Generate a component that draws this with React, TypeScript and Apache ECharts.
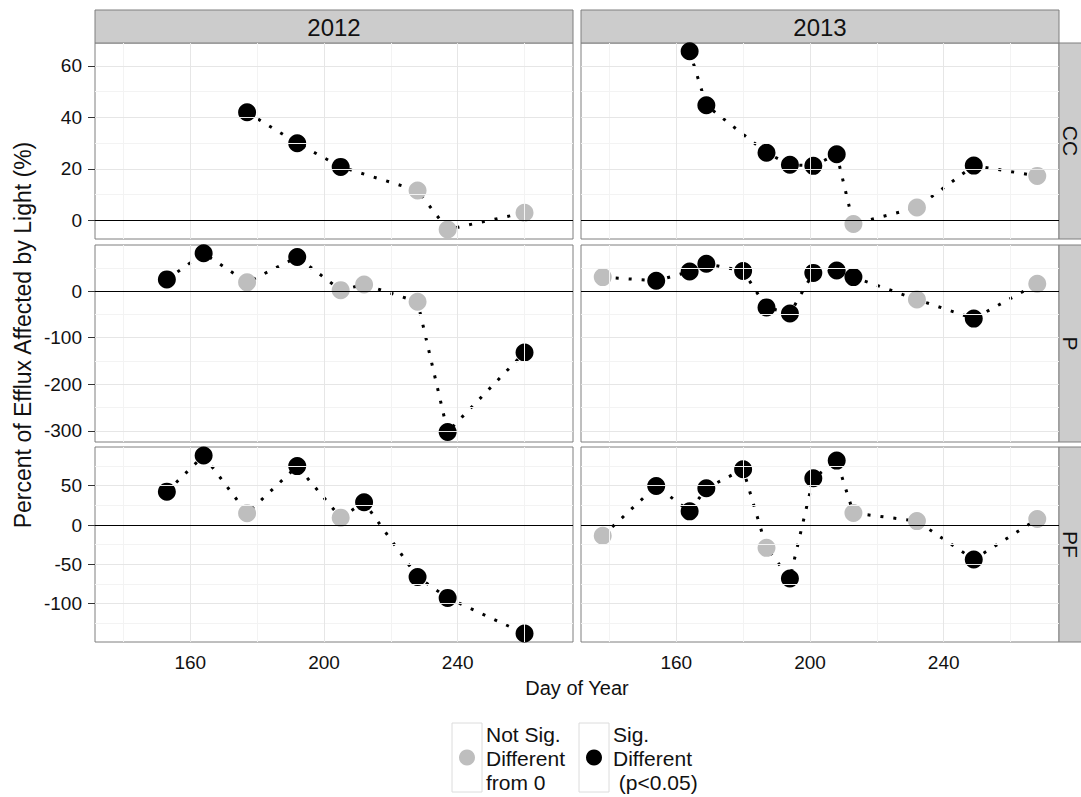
import React, { useEffect, useRef } from "react";
import * as echarts from "echarts";

// sampling days per year
const days2012 = [153, 164, 177, 192, 205, 212, 228, 237, 260];
const days2013 = [138, 154, 164, 169, 180, 187, 194, 201, 208, 213, 232, 249, 268];

// percent of efflux affected by light, null = not measured
const cc2012 = [null, null, 42, 30, 20.8, null, 11.6, -3.5, 3];
const ccSig2012 = [0, 0, 1, 1, 1, 0, 0, 0, 0];
const p2012 = [25, 81, 18.7, 73, 2, 14, -23, -302, -131.6];
const pSig2012 = [1, 1, 0, 1, 0, 0, 0, 1, 1];
const pf2012 = [42.5, 88.4, 15, 75, 9.4, 29, -66, -92.7, -138];
const pfSig2012 = [1, 1, 0, 1, 0, 1, 1, 1, 1];

const cc2013 = [null, null, 65.7, 44.7, null, 26.3, 21.6, 21.2, 25.7, -1.4, 5, 21.3, 17.3];
const ccSig2013 = [0, 0, 1, 1, 0, 1, 1, 1, 1, 0, 0, 1, 0];
const p2013 = [30, 22, 42, 58.7, 43, -35, -48, 39, 44, 30, -18, -59, 15.7];
const pSig2013 = [0, 1, 1, 1, 1, 1, 1, 1, 1, 1, 0, 1, 0];
const pf2013 = [-13.6, 49.7, 17.4, 46.8, 71, -29, -68, 59.5, 82, 15.3, 5, -43.8, 7.6];
const pfSig2013 = [0, 1, 1, 1, 1, 0, 1, 1, 1, 0, 0, 1, 0];

const years = ["2012", "2013"];
const sites = ["CC", "P", "PF"];

// axis ticks
const xTicks = [160, 200, 240];
const xMinor = [140, 180, 220, 260];
const yTicks = [[0, 20, 40, 60], [-300, -200, -100, 0], [-100, -50, 0, 50]];
const yMinor = [[10, 30, 50], [-250, -150, -50, 50], [-125, -75, -25, 25, 75]];
const yRange = [[-7.2, 68.9], [-323.6, 98.8], [-148.8, 99.3]];
const xRange = [131.5, 274.5];

const panels = [
  [[days2012, cc2012, ccSig2012], [days2013, cc2013, ccSig2013]],
  [[days2012, p2012, pSig2012], [days2013, p2013, pSig2013]],
  [[days2012, pf2012, pfSig2012], [days2013, pf2013, pfSig2013]],
];

const colLeft = [95, 581];
const colWidth = 478;
const rowTop = [43, 245, 447];
const rowHeight = [196, 197, 195];

const FONT = "Liberation Sans, Arial, sans-serif";
const SIG = "#000000";
const NOT_SIG = "#bebebe";

const App = () => {
  const chartRef = useRef(null);

  useEffect(() => {
    const chart = echarts.init(chartRef.current, null, { renderer: "svg" });

    const grids: any[] = [];
    const xAxes: any[] = [];
    const yAxes: any[] = [];
    const series: any[] = [];

    for (let r = 0; r < 3; r++) {
      for (let c = 0; c < 2; c++) {
        const i = r * 2 + c;
        grids.push({
          left: colLeft[c],
          top: rowTop[r],
          width: colWidth,
          height: rowHeight[r],
          show: true,
          backgroundColor: "#ffffff",
          borderColor: "#7f7f7f",
          borderWidth: 1,
        });
        xAxes.push({
          gridIndex: i,
          type: "value",
          min: xRange[0],
          max: xRange[1],
          axisLine: { show: false },
          splitLine: { show: false },
          axisTick: {
            show: r === 2,
            customValues: xTicks,
            length: 6,
            lineStyle: { color: "#333333" },
          },
          axisLabel: {
            show: r === 2,
            customValues: xTicks,
            fontSize: 19,
            color: "#111111",
            fontFamily: FONT,
            margin: 11,
          },
        });
        yAxes.push({
          gridIndex: i,
          type: "value",
          min: yRange[r][0],
          max: yRange[r][1],
          axisLine: { show: false },
          splitLine: { show: false },
          axisTick: {
            show: c === 0,
            customValues: yTicks[r],
            length: 7,
            lineStyle: { color: "#333333" },
          },
          axisLabel: {
            show: c === 0,
            customValues: yTicks[r],
            fontSize: 19,
            color: "#111111",
            fontFamily: FONT,
            margin: 13,
          },
        });

        const minor = { color: "#f3f3f3", width: 1, type: "solid" };
        const major = { color: "#e6e6e6", width: 1, type: "solid" };
        const lines: any[] = [];
        xMinor.forEach((v) => lines.push({ xAxis: v, lineStyle: minor }));
        yMinor[r].forEach((v) => lines.push({ yAxis: v, lineStyle: minor }));
        xTicks.forEach((v) => lines.push({ xAxis: v, lineStyle: major }));
        yTicks[r].filter((v) => v !== 0).forEach((v) => lines.push({ yAxis: v, lineStyle: major }));
        lines.push({ yAxis: 0, lineStyle: { color: "#000000", width: 1.2, type: "solid" } });

        series.push({
          type: "line",
          xAxisIndex: i,
          yAxisIndex: i,
          data: [],
          z: 1,
          silent: true,
          markLine: {
            silent: true,
            symbol: ["none", "none"],
            label: { show: false },
            emphasis: { disabled: true },
            lineStyle: { type: "solid" },
            data: lines,
          },
        });

        const [days, vals, sig] = panels[r][c];
        const data: any[] = [];
        days.forEach((d, k) => {
          if (vals[k] === null) return;
          data.push({
            value: [d, vals[k]],
            itemStyle: { color: sig[k] ? SIG : NOT_SIG },
          });
        });
        series.push({
          type: "line",
          name: `${sites[r]} ${years[c]}`,
          xAxisIndex: i,
          yAxisIndex: i,
          z: 3,
          silent: true,
          data,
          symbol: "circle",
          symbolSize: 18,
          showSymbol: true,
          showAllSymbol: true,
          clip: false,
          lineStyle: { color: "#000000", width: 3, type: [3, 10] },
          emphasis: { disabled: true },
        });
      }
    }

    const textStyle = (text: string, fontSize: number, align = "center") => ({
      text,
      fontSize,
      fontFamily: FONT,
      fill: "#111111",
      textAlign: align,
      textVerticalAlign: "middle",
      align,
      verticalAlign: "middle",
    });

    const graphics: any[] = [];
    years.forEach((y, c) => {
      graphics.push({
        type: "rect",
        shape: { x: colLeft[c], y: 10, width: colWidth, height: 33 },
        style: { fill: "#cccccc", stroke: "#7f7f7f", lineWidth: 1 },
      });
      graphics.push({
        type: "text",
        x: colLeft[c] + colWidth / 2,
        y: 27,
        style: textStyle(y, 24),
      });
    });
    sites.forEach((s, r) => {
      graphics.push({
        type: "rect",
        shape: { x: 1059, y: rowTop[r], width: 34, height: rowHeight[r] },
        style: { fill: "#cccccc", stroke: "#7f7f7f", lineWidth: 1 },
      });
      graphics.push({
        type: "text",
        x: 1070,
        y: rowTop[r] + rowHeight[r] / 2,
        rotation: -Math.PI / 2,
        style: textStyle(s, 21),
      });
    });

    // axis titles
    graphics.push({ type: "text", x: 577, y: 688, style: textStyle("Day of Year", 20) });
    graphics.push({
      type: "text",
      x: 23,
      y: 335,
      rotation: Math.PI / 2,
      style: textStyle("Percent of Efflux Affected by Light (%)", 23),
    });

    // legend
    const legendItems = [
      { x: 452, color: NOT_SIG, label: "Not Sig.\nDifferent\nfrom 0" },
      { x: 579, color: SIG, label: "Sig.\nDifferent\n (p<0.05)" },
    ];
    legendItems.forEach((it) => {
      graphics.push({
        type: "rect",
        shape: { x: it.x, y: 723, width: 30, height: 69 },
        style: { fill: "#ffffff", stroke: "#dcdcdc", lineWidth: 1 },
      });
      graphics.push({
        type: "circle",
        shape: { cx: it.x + 15, cy: 757.5, r: 8 },
        style: { fill: it.color },
      });
      graphics.push({
        type: "text",
        x: it.x + 34,
        y: 758,
        style: { ...textStyle(it.label, 21, "left"), lineHeight: 24 },
      });
    });

    chart.setOption({
      animation: false,
      backgroundColor: "#ffffff",
      grid: grids,
      xAxis: xAxes,
      yAxis: yAxes,
      series,
      graphic: { elements: graphics },
    });

    return () => {
      chart.dispose();
    };
  }, []);

  return (
    <div
      ref={chartRef}
      style={{ position: "absolute", left: 0, top: 0, width: "1081px", height: "797px" }}
    ></div>
  );
};

export default App;
